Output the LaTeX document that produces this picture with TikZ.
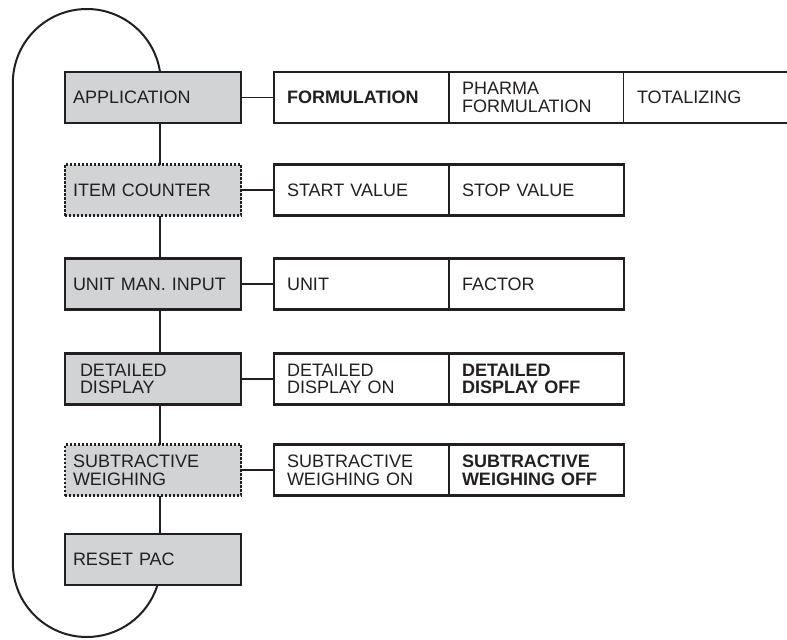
\documentclass[tikz,border=0pt]{standalone}
\usepackage{fontspec}
\newfontfamily\menufont{Liberation Sans}
\definecolor{menugray}{RGB}{209,211,212}
\definecolor{ink}{RGB}{35,31,32}
\tikzset{
	menu/.style={draw=ink, text=ink, line width=1.25pt, fill=menugray, minimum height=25.5pt, text width=80pt, inner xsep=4pt, inner ysep=0pt, outer sep=0pt, align=left, font=\menufont\fontsize{9}{8.8}\selectfont},
	optional/.style={menu, dash pattern=on 1.1pt off 0.9pt},
	choice/.style={menu, fill=white, text width=74.5pt, inner xsep=6.5pt},
	pick/.style={choice, font=\menufont\bfseries\fontsize{9}{8.8}\selectfont},
	boxline/.style={draw=ink, line width=1.25pt},
	link/.style={draw=ink, line width=.8pt},
	loopline/.style={draw=ink, line width=1pt}
}
\begin{document}
\begin{tikzpicture}[x=.5pt,y=.5pt]
	\useasboundingbox (0,0) rectangle (787,639);
	\coordinate (spine) at (160,0);
	% main menu
	\node[menu] (app) at (153,541.5) {APPLICATION};
	\node[optional] (item) at (153,449) {ITEM COUNTER};
	\node[menu] (unit) at (153,355) {UNIT MAN. INPUT};
	\node[menu, text width=73pt, inner xsep=7.5pt] (detail) at (153,260) {DETAILED\\DISPLAY};
	\node[optional] (subtr) at (153,169) {SUBTRACTIVE\\WEIGHING};
	\node[menu] (reset) at (153,79.5) {RESET PAC};
	
	% choices
	\node[pick] (form) at (361.5,541.5) {FORMULATION};
	\node[choice, anchor=west] (pharma) at (form.east) {PHARMA\\FORMULATION};
	\node[choice, draw=none, text width=70.5pt, anchor=west] (total) at (pharma.east) {TOTALIZING};
	\draw[boxline] (total.north west) -- (total.north east) (total.south west) -- (total.south east);
	\node[choice] (start) at (361.5,449) {START VALUE};
	\node[choice, anchor=west] (stop) at (start.east) {STOP VALUE};
	\node[choice] (unitsel) at (361.5,355) {UNIT};
	\node[choice, anchor=west] (factor) at (unitsel.east) {FACTOR};
	\node[choice] (deton) at (361.5,260) {DETAILED\\DISPLAY ON};
	\node[pick, anchor=west] (detoff) at (deton.east) {DETAILED\\DISPLAY OFF};
	\node[choice] (subon) at (361.5,169) {SUBTRACTIVE\\WEIGHING ON};
	\node[pick, anchor=west] (suboff) at (subon.east) {SUBTRACTIVE\\WEIGHING OFF};
	
	% links
	\draw[link] (app.east) -- (form.west);
	\draw[link] (item.east) -- (start.west);
	\draw[link] (unit.east) -- (unitsel.west);
	\draw[link] (detail.east) -- (deton.west);
	\draw[link] (subtr.east) -- (subon.west);
	\draw[loopline] (app.south -| spine) -- (item.north -| spine);
	\draw[loopline] (item.south -| spine) -- (unit.north -| spine);
	\draw[loopline] (unit.south -| spine) -- (detail.north -| spine);
	\draw[loopline] (detail.south -| spine) -- (subtr.north -| spine);
	\draw[loopline] (subtr.south -| spine) -- (reset.north -| spine);
	
	% back to the top
	\draw[loopline] (app.north -| spine) arc (8.55:180:74) -- ++(0,-480) arc (180:341.9:74);
\end{tikzpicture}
\end{document}
